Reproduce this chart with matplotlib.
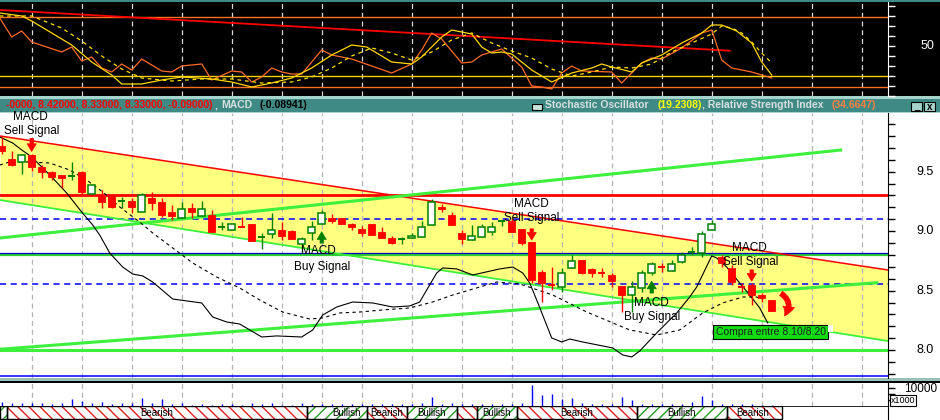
import numpy as np
import matplotlib.pyplot as plt
from matplotlib.patches import Rectangle, FancyArrowPatch
from matplotlib.ticker import MultipleLocator, FixedLocator
import matplotlib.transforms as mtransforms

plt.rcParams['font.family'] = ['Liberation Sans', 'DejaVu Sans']
plt.rcParams['hatch.linewidth'] = 1.0

# ---------------- data ----------------
opens = [9.72, 9.61, 9.58, 9.64, 9.54, 9.50, 9.47, 9.46, 9.50, 9.31,
         9.30, 9.30, 9.25, 9.25, 9.16, 9.28, 9.245, 9.16, 9.11, 9.195,
         9.13, 9.135, 9.035, 9.01, 9.035, 9.06, 8.95, 8.98, 9.01, 9.00,
         8.89, 8.985, 9.06, 9.11, 9.11, 9.06, 9.02, 9.06, 8.99, 8.94,
         8.935, 8.94, 8.95, 9.05, 9.20, 9.135, 8.985, 8.925, 8.95, 8.99,
         9.085, 9.085, 9.02, 8.91, 8.66, 8.55, 8.53, 8.69, 8.76, 8.68,
         8.645, 8.63, 8.54, 8.465, 8.52, 8.65, 8.70, 8.665, 8.74, 8.825,
         8.82, 9.01, 8.78, 8.69, 8.53, 8.55, 8.46, 8.42]
highs = [9.79, 9.67, 9.65, 9.65, 9.56, 9.51, 9.47, 9.58, 9.51, 9.40,
         9.35, 9.30, 9.29, 9.28, 9.32, 9.33, 9.28, 9.22, 9.245, 9.24,
         9.25, 9.18, 9.08, 9.06, 9.12, 9.06, 8.985, 9.15, 9.08, 9.01,
         8.95, 9.085, 9.18, 9.145, 9.11, 9.07, 9.045, 9.06, 9.035, 8.96,
         8.95, 8.985, 9.085, 9.27, 9.23, 9.16, 9.01, 9.05, 9.06, 9.08,
         9.095, 9.11, 9.02, 8.91, 8.675, 8.70, 8.69, 8.80, 8.76, 8.69,
         8.69, 8.65, 8.54, 8.58, 8.675, 8.74, 8.73, 8.76, 8.825, 8.87,
         9.00, 9.095, 8.80, 8.72, 8.565, 8.565, 8.48, 8.42]
lows = [9.65, 9.55, 9.48, 9.51, 9.45, 9.43, 9.36, 9.43, 9.30, 9.31,
        9.195, 9.195, 9.195, 9.15, 9.16, 9.18, 9.12, 9.09, 9.11, 9.11,
        9.13, 8.99, 9.01, 9.01, 9.035, 8.92, 8.85, 8.94, 8.93, 8.935,
        8.825, 8.93, 9.06, 9.07, 9.06, 9.01, 8.96, 8.97, 8.94, 8.89,
        8.89, 8.94, 8.95, 9.05, 9.16, 9.05, 8.89, 8.925, 8.95, 8.97,
        9.04, 8.99, 8.88, 8.565, 8.405, 8.51, 8.49, 8.69, 8.64, 8.615,
        8.615, 8.53, 8.32, 8.32, 8.49, 8.63, 8.66, 8.665, 8.73, 8.80,
        8.78, 9.01, 8.70, 8.55, 8.49, 8.38, 8.405, 8.33]
closes = [9.67, 9.56, 9.64, 9.54, 9.50, 9.455, 9.45, 9.46, 9.33, 9.39,
          9.245, 9.20, 9.25, 9.20, 9.30, 9.24, 9.135, 9.13, 9.19, 9.16,
          9.19, 8.99, 9.035, 9.06, 9.035, 8.92, 8.95, 9.01, 8.96, 8.935,
          8.935, 9.035, 9.15, 9.085, 9.06, 9.035, 8.985, 8.97, 8.94, 8.90,
          8.935, 8.96, 9.035, 9.245, 9.185, 9.05, 8.935, 8.96, 9.035, 9.035,
          9.085, 8.99, 8.90, 8.59, 8.565, 8.55, 8.65, 8.75, 8.65, 8.65,
          8.645, 8.58, 8.46, 8.53, 8.65, 8.725, 8.70, 8.725, 8.80, 8.825,
          8.98, 9.06, 8.73, 8.57, 8.53, 8.46, 8.44, 8.33]
volume = [3600, 2500, 2500, 2900, 2200, 1700, 2800, 5600, 4400, 2200,
          3300, 1700, 2200, 2800, 6900, 2200, 5800, 1700, 2800, 1100,
          1700, 1100, 1700, 1700, 1100, 2200, 1700, 2200, 1100, 600,
          2800, 1700, 2000, 1500, 1700, 1300, 1500, 2000, 1500, 1700,
          1300, 1500, 2200, 7200, 1700, 2100, 1700, 1700, 1300, 1300,
          1300, 1700, 2100, 17500, 9200, 10000, 6100, 6900, 2800, 1700,
          1700, 1700, 7200, 5000, 1700, 1700, 1300, 1700, 1700, 3600,
          8300, 5000, 1700, 1700, 1700, 1300, 800, 800]

# moving averages on the price panel
ma1_x = [-0.2, 1.1, 2.0, 3.0, 4.0, 5.1, 6.5, 8.0, 9.1, 9.8, 10.8, 12.1, 13.1, 14.1, 15.1,
         17.1, 20, 21.1, 22.5, 23.8, 26, 27.5, 30, 31.1, 32.1, 33.5, 35.1, 37.1, 39.1,
         40.8, 41.8, 42.5, 43.5, 44.1, 45.5, 47.1, 49.8, 51.1, 52.1, 52.8, 53.5, 55,
         56, 56.8, 58.1, 61.1, 62.1, 63, 63.8, 65.5, 67.5, 68.8, 69.5, 71, 71.5, 72.5,
         73.8, 74.8, 75.8, 76.6]
ma1_p = [9.792, 9.741, 9.683, 9.624, 9.54, 9.447, 9.321, 9.161, 9.052, 8.968, 8.817,
         8.699, 8.64, 8.624, 8.573, 8.43, 8.397, 8.279, 8.237, 8.22, 8.111, 8.12,
         8.111, 8.17, 8.296, 8.363, 8.405, 8.397, 8.363, 8.372, 8.405, 8.506, 8.649,
         8.691, 8.683, 8.632, 8.683, 8.699, 8.649, 8.565, 8.422, 8.103, 8.069, 8.094,
         8.069, 8.019, 7.96, 7.943, 7.993, 8.145, 8.313, 8.447, 8.531, 8.792, 8.775,
         8.699, 8.565, 8.464, 8.355, 8.229]
ma2_x = [-0.2, 0.8, 2.5, 4.8, 6.8, 8.5, 10.1, 11.8, 13.8, 15.1, 17.1, 19.1, 21.5, 23.8,
         25.8, 28.1, 30.8, 32.1, 33.8, 35.8, 38.1, 40.8, 43.1, 45.1, 46.8, 48.5, 49.5,
         51.8, 55.1, 58.5, 62.8, 65.5, 67.8, 70.1, 72.1, 74.1, 75.5, 76.1]
ma2_p = [9.556, 9.582, 9.582, 9.573, 9.514, 9.43, 9.33, 9.204, 9.077, 8.985, 8.859,
         8.733, 8.615, 8.523, 8.422, 8.321, 8.262, 8.271, 8.313, 8.321, 8.338, 8.355,
         8.405, 8.464, 8.506, 8.548, 8.573, 8.557, 8.464, 8.321, 8.17, 8.128, 8.17,
         8.313, 8.397, 8.447, 8.447, 8.422]

# oscillator panel
rsi_x = [-0.2, 1, 2, 3, 6, 7, 8, 9, 10, 11, 12, 13, 14, 16, 17, 18, 20, 21, 23, 24, 25,
         26, 27, 28, 29, 30, 32, 33, 35, 39, 41, 42, 43, 44, 46, 47, 48, 50, 51, 52, 53,
         54, 55, 56, 57, 58, 61, 62, 64, 65, 66, 68, 70, 71, 72, 73, 75, 76, 77]
rsi_v = [78, 59, 65, 54, 44, 49, 35, 39, 28, 24, 32, 26, 37, 25, 24, 30, 32, 16, 25, 24,
         14, 19, 28, 24, 22, 22, 46, 41, 37, 23, 32, 46, 63, 57, 33, 34, 41, 47, 38, 29,
         10, 9, 7, 23, 30, 25, 24, 13, 33, 38, 37, 48, 63, 66, 36, 28, 24, 21, 18]
k_x = [-0.2, 2, 3, 7, 9, 11, 12, 14, 16, 18, 21, 23, 25, 27, 29, 31, 33, 35, 36.5, 39,
       41, 42, 44, 45, 47, 48, 49, 50, 51, 53, 55, 57, 59, 60, 61, 63, 64, 66, 68, 70,
       71, 72, 73.5, 75, 76, 77]
k_v = [83, 80, 75, 51, 34, 21, 12, 12, 16, 19, 17, 14, 9, 13, 18, 28, 41, 51, 49, 34,
       32, 39, 59, 66, 62, 49, 43, 44, 42, 26, 14, 23, 28, 32, 29, 24, 33, 41, 53, 63,
       71, 71, 65, 53, 34, 21]
d_x = [-0.2, 3, 6, 8, 10, 12, 14, 17, 20, 23, 26, 29, 31, 33, 35, 37, 39, 41, 43, 45,
       47, 49, 51, 53, 55, 57, 59, 61, 63, 65, 67, 69, 71, 72, 73, 74, 75, 76, 77]
d_v = [80, 80, 68, 55, 40, 27, 18, 15, 17, 17, 13, 14, 19, 28, 40, 48, 43, 36, 44, 56,
       63, 53, 45, 38, 27, 20, 24, 29, 28, 32, 44, 53, 62, 70, 68, 63, 54, 43, 33]
osc_trend_x = [-0.17, 72.8]
osc_trend_v = [86, 45.3]
osc_levels = [79, 20.3, 8.7]

# trend lines on the price panel
chan_x = [-0.17, 88.63]
chan_top = [9.80, 8.674]
chan_bot = [9.262, 8.077]
rise1_x, rise1_p = [-0.17, 83.9], [8.943, 9.682]
rise2_x, rise2_p = [-0.17, 87.5], [8.008, 8.567]

# weekly date grid (candle index)
grid_idx = [3, 8, 13, 18, 23, 28, 32, 36, 41, 46, 51, 56, 61, 66, 71, 76, 81, 86]

# signals: (index, tail price, head price)
sell_arrows = [(3, 9.78, 9.67), (53, 9.02, 8.925), (75, 8.675, 8.58)]
buy_arrows = [(32, 8.90, 8.995), (65, 8.48, 8.58)]
signal_text = [(2.9, 9.962, 'MACD'), (3.0, 9.84, 'Sell Signal'),
               (31.7, 8.83, 'MACD'), (32.0, 8.695, 'Buy Signal'),
               (53.0, 9.23, 'MACD'), (53.0, 9.11, 'Sell Signal'),
               (74.8, 8.861, 'MACD'), (74.9, 8.743, 'Sell Signal'),
               (65.0, 8.40, 'MACD'), (65.0, 8.282, 'Buy Signal')]

# bull / bear band
band_edges = [-0.17, 0.5, 30.5, 36.5, 40.5, 45.5, 47.5, 51.5, 63.5, 72.5, 78.0]
band_kind = ['bull', 'bear', 'bull', 'bear', 'bull', 'bear', 'bull', 'bear', 'bull', 'bear']
band_label_x = [15.5, 34.5, 38.5, 43.0, 49.5, 57.5, 68.0, 75.1]
band_labels = ['Bearish', 'Bullish', 'Bearish', 'Bullish', 'Bullish', 'Bearish', 'Bullish', 'Bearish']

# ---------------- layout ----------------
W, H = 940, 420
fig = plt.figure(figsize=(9.4, 4.2), dpi=100, facecolor='white')


def fx(px):
    return px / W


def fy(py):
    return 1 - py / H


def strip(y0, y1, color, x0=0, x1=W, z=-5):
    fig.add_artist(Rectangle((fx(x0), fy(y1)), fx(x1 - x0), (y1 - y0) / H,
                             transform=fig.transFigure, color=color, lw=0, zorder=z))


XL = (-0.17, 88.63)
TEAL = '#3f8a84'
LIGHT = '#a6d4cc'
GREEN = '#3cf03c'
DKGREEN = '#008000'

strip(0, 2, TEAL)
strip(2, 96, 'black')
strip(96, 99, LIGHT)
strip(99, 112, TEAL)
strip(112, 113, LIGHT)
strip(378, 381, '#98c0b8')
strip(381, 383, 'black')

ax_t = fig.add_axes([0, fy(96), fx(888), 94 / H])
ax_m = fig.add_axes([0, fy(378), fx(888), 265 / H])
ax_v = fig.add_axes([0, fy(406), fx(888), 23 / H])
ax_b = fig.add_axes([0, fy(420), fx(888), 14 / H])

for ax in (ax_t, ax_m, ax_v, ax_b):
    ax.set_xlim(XL)
    ax.set_xticks([])
    for s in ('left', 'top', 'bottom'):
        ax.spines[s].set_visible(False)
    ax.yaxis.tick_right()
    ax.tick_params(axis='y', which='both', direction='out', length=5, width=1,
                   labelright=False, labelleft=False, left=False)

# ---------------- oscillator panel ----------------
ax_t.set_facecolor('black')
ax_t.set_ylim(0, 94)
ax_t.spines['right'].set_color('white')
ax_t.yaxis.set_major_locator(FixedLocator(range(0, 95, 10)))
ax_t.tick_params(axis='y', colors='white')
for g in grid_idx:
    ax_t.axvline(g, color='#d8d8d8', lw=0.9, dashes=(4, 3), zorder=1)
ax_t.axhline(osc_levels[0], color='#ff7020', lw=1.0, zorder=2)
ax_t.axhline(osc_levels[1], color='#ffd000', lw=1.0, zorder=2)
ax_t.axhline(osc_levels[2], color='#ff7020', lw=1.0, zorder=2)
ax_t.plot(osc_trend_x, osc_trend_v, color='red', lw=1.3, zorder=3)
ax_t.plot(rsi_x, rsi_v, color='#ff6a28', lw=0.9, zorder=4)
ax_t.plot(k_x, k_v, color='#ffd800', lw=0.9, zorder=5)
ax_t.plot(d_x, d_v, color='#ffe000', lw=0.9, dashes=(3, 3), zorder=5)
fig.text(fx(934), fy(46), '50', color='white', ha='right', va='center', fontsize=9)

# ---------------- header bar ----------------
hy = fy(105.5)
hb = dict(fontsize=7.5, fontweight='bold', va='center')
fig.text(fx(213), hy, '-0000, 8.42000, 8.33000, 8.33000, -0.09000)', color='#ff0000', ha='right', **hb)
fig.text(fx(214), hy, ',', color='#d8e0e0', ha='left', **hb)
fig.text(fx(221), hy, 'MACD', color='#d8e0e0', ha='left', **hb)
fig.text(fx(259), hy, '(-0.08941)', color='black', ha='left', **hb)
strip(104, 110, '#c8e4dc', 532, 542, z=2)
fig.add_artist(Rectangle((fx(532), fy(110)), fx(10), 6 / H, transform=fig.transFigure,
                         fill=False, ec='black', lw=0.8, zorder=3))
fig.text(fx(545), hy, 'Stochastic Oscillator', color='#d8e0e0', ha='left', **hb)
fig.text(fx(657), hy, '(19.2308)', color='#ffff00', ha='left', **hb)
fig.text(fx(702), hy, ', Relative Strength Index', color='#d8e0e0', ha='left', **hb)
fig.text(fx(832), hy, '(34.6647)', color='#ff7f40', ha='left', **hb)
for bx, glyph in ((911, '_'), (924, 'x')):
    fig.add_artist(Rectangle((fx(bx), fy(111)), fx(11), 9 / H, transform=fig.transFigure,
                             fc='#a6d4cc', ec='black', lw=0.8, zorder=3))
    fig.text(fx(bx + 5.5), fy(106.5), glyph, color='black', ha='center', va='center',
             fontsize=7, fontweight='bold')

# ---------------- price panel ----------------
ax_m.set_facecolor('white')
ax_m.set_ylim(9.5 - (378 - 171.7) / 119, 9.5 - (113 - 171.7) / 119)
ax_m.spines['right'].set_color('black')
ax_m.yaxis.set_major_locator(MultipleLocator(0.5))
ax_m.yaxis.set_minor_locator(MultipleLocator(0.1))

ax_m.fill_between(chan_x, chan_bot, chan_top, color='#ffff80', lw=0, zorder=0)
for g in grid_idx:
    ax_m.axvline(g, color='#b4b4b4', lw=0.9, dashes=(4, 3), zorder=1)

ax_m.axhline(9.30, color='red', lw=2.0, zorder=2)
ax_m.axhline(9.10, color='blue', lw=1.1, dashes=(4, 3), zorder=2)
ax_m.axhline(8.56, color='blue', lw=1.1, dashes=(4, 3), zorder=2)
ax_m.axhline(8.803, color='#30d030', lw=1.6, zorder=2)
ax_m.axhline(8.815, color='#0000c0', lw=0.9, zorder=2)
ax_m.axhline(8.0, color=GREEN, lw=2.2, zorder=2)
ax_m.axhline(7.78, color='blue', lw=1.1, zorder=2)

ax_m.plot(chan_x, chan_top, color='red', lw=1.1, zorder=3)
ax_m.plot(chan_x, chan_bot, color=GREEN, lw=1.3, zorder=3)
ax_m.plot(rise1_x, rise1_p, color=GREEN, lw=2.2, zorder=3)
ax_m.plot(rise2_x, rise2_p, color=GREEN, lw=2.2, zorder=3)

ax_m.plot(ma1_x, ma1_p, color='black', lw=0.8, zorder=4)
ax_m.plot(ma2_x, ma2_p, color='black', lw=0.8, dashes=(3, 3), zorder=4)

for i, (o, h, l, c) in enumerate(zip(opens, highs, lows, closes)):
    prev = closes[i - 1] if i else o
    up = c > o or (c == o and c >= prev)
    col = DKGREEN if up else 'red'
    ax_m.vlines(i, l, h, color=col, lw=1.0, zorder=5)
    if c == o:
        ax_m.hlines(o, i - 0.35, i + 0.35, color=col, lw=1.4, zorder=6)
    elif up:
        ax_m.add_patch(Rectangle((i - 0.33, o), 0.66, c - o, fc='white', ec=DKGREEN,
                                 lw=1.1, zorder=6))
    else:
        ax_m.add_patch(Rectangle((i - 0.35, c), 0.7, o - c, fc='red', ec='red',
                                 lw=0.6, zorder=6))

arrow_style = 'simple,head_width=0.6,head_length=0.5,tail_width=0.22'
for i, p0, p1 in sell_arrows:
    ax_m.annotate('', xy=(i, p1), xytext=(i, p0), zorder=7,
                  arrowprops=dict(arrowstyle=arrow_style, fc='red', ec='red', lw=0.5,
                                  mutation_scale=11, shrinkA=0, shrinkB=0))
for i, p0, p1 in buy_arrows:
    ax_m.annotate('', xy=(i, p1), xytext=(i, p0), zorder=7,
                  arrowprops=dict(arrowstyle=arrow_style, fc=DKGREEN, ec=DKGREEN, lw=0.5,
                                  mutation_scale=11, shrinkA=0, shrinkB=0))
for x, p, s in signal_text:
    ax_m.text(x, p, s, ha='center', va='center', fontsize=8.5, color='black', zorder=8)

# buy zone label
ax_m.add_patch(Rectangle((71.13, 8.094), 11.5, 0.118, fc='#10dc10', ec='black', lw=0.8, zorder=8))
ax_m.add_patch(Rectangle((82.63, 8.15), 0.5, 0.062, fc='white', lw=0, zorder=8))
ax_m.text(76.88, 8.153, 'Compra entre 8.10/8.20', ha='center', va='center', fontsize=7.5,
          color='#202020', zorder=9)
ax_m.add_patch(FancyArrowPatch((77.7, 8.49), (78.1, 8.27), connectionstyle='arc3,rad=-0.6',
                               arrowstyle='simple,head_width=0.7,head_length=0.6,tail_width=0.3',
                               mutation_scale=12, fc='red', ec='red', lw=0.5, zorder=8))

tr_m = mtransforms.blended_transform_factory(fig.transFigure, ax_m.transData)
for v in (9.5, 9.0, 8.5, 8.0):
    ax_m.text(fx(934), v, f'{v:.1f}', transform=tr_m, ha='right', va='center',
              fontsize=9, clip_on=False)

# ---------------- volume panel ----------------
ax_v.set_facecolor('white')
ax_v.set_ylim(0, 23 / 12 * 10000)
ax_v.spines['right'].set_color('black')
ax_v.yaxis.set_major_locator(FixedLocator([5000, 10000, 15000]))
for g in grid_idx:
    ax_v.axvline(g, color='#b4b4b4', lw=0.9, dashes=(4, 3), zorder=1)
ax_v.vlines(range(len(volume)), 0, volume, color='blue', lw=1.0, zorder=3)
fig.text(fx(937), fy(389.5), '10000', ha='right', va='center', fontsize=8.5)
fig.text(fx(903), fy(400.5), 'x1000', ha='center', va='center', fontsize=6.5,
         bbox=dict(boxstyle='square,pad=0.12', fc='white', ec='black', lw=0.8))

# ---------------- bull / bear band ----------------
ax_b.set_facecolor('white')
ax_b.set_ylim(0, 14)
ax_b.spines['right'].set_color('black')
ax_b.tick_params(axis='y', length=0)
ax_b.axhline(14, color='black', lw=1.2, zorder=5)
for (x0, x1), kind in zip(zip(band_edges[:-1], band_edges[1:]), band_kind):
    hc = '#e02020' if kind == 'bear' else '#20a020'
    hatch = '\\\\\\' if kind == 'bear' else '///'
    ax_b.add_patch(Rectangle((x0, 1), x1 - x0, 13, fc='white', ec=hc, lw=0, hatch=hatch, zorder=2))
    ax_b.add_patch(Rectangle((x0, 1), x1 - x0, 13, fill=False, ec='black', lw=1.0, zorder=4))
for x, s in zip(band_label_x, band_labels):
    ax_b.text(x, 7.2, s, ha='center', va='center', fontsize=7, color='black', zorder=6)

fig.savefig('out.png', dpi=100, facecolor=fig.get_facecolor())
